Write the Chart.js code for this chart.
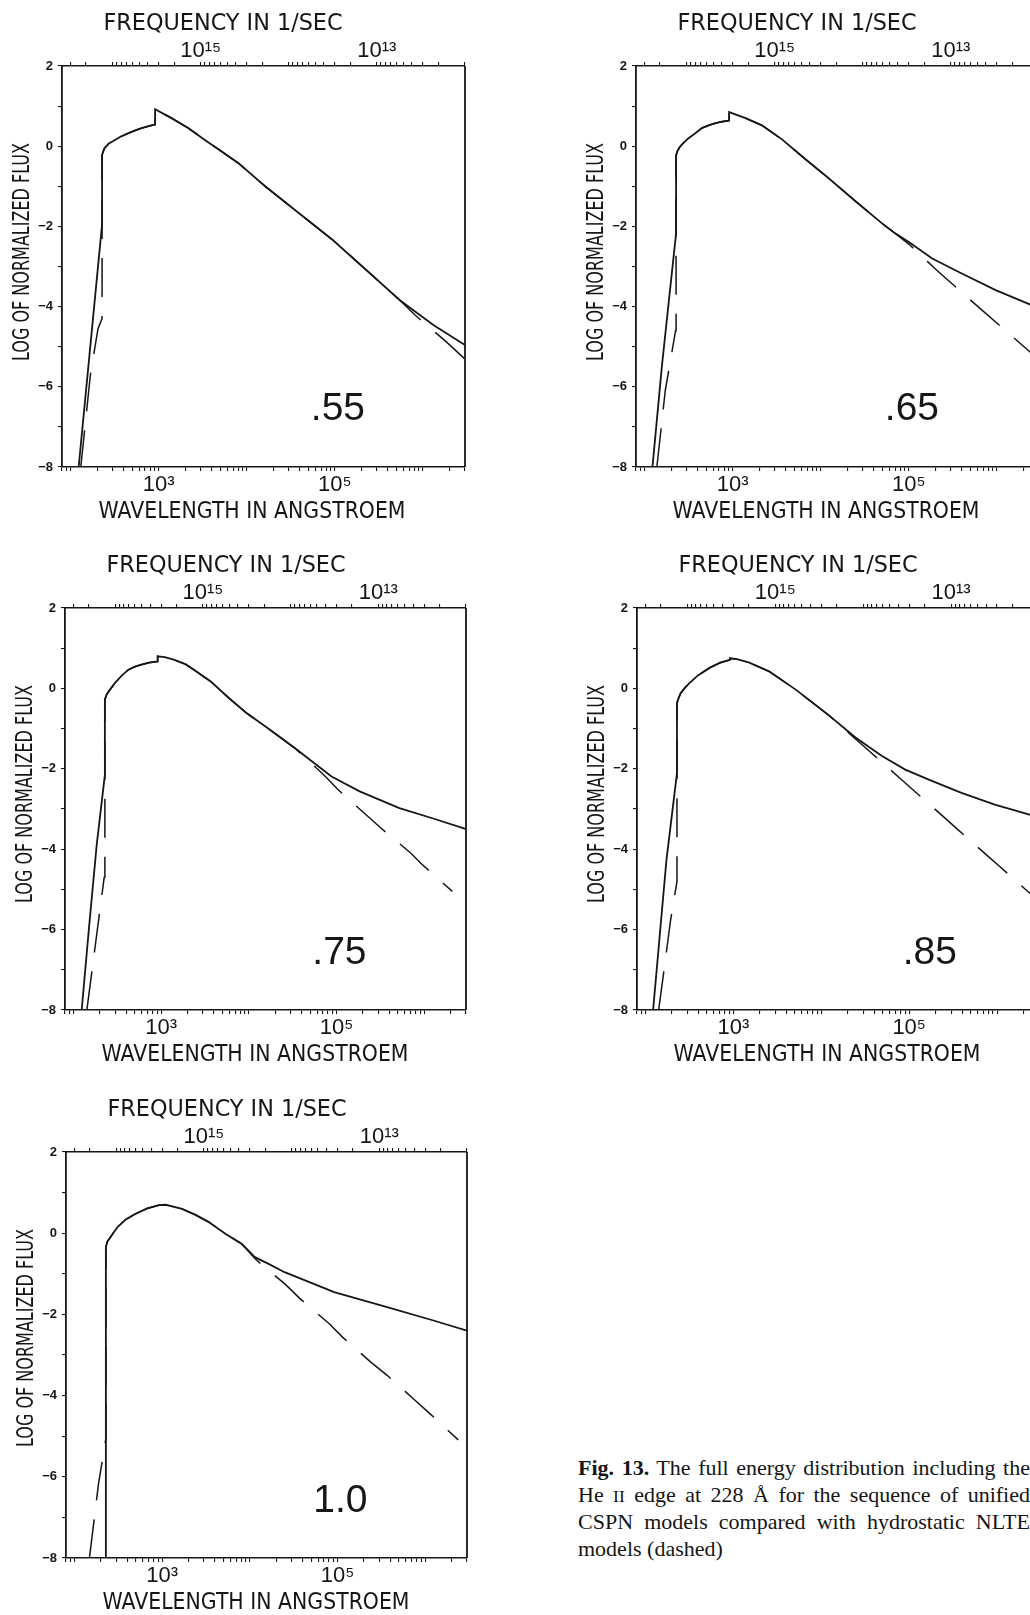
<!DOCTYPE html>
<html>
<head>
<meta charset="utf-8">
<title>Fig. 13 - full energy distribution, unified CSPN models</title>
<script src="https://cdn.jsdelivr.net/npm/chart.js@4.4.1/dist/chart.umd.min.js"></script>
<style>
  html, body { margin: 0; padding: 0; background: #fff; }
  #page { position: relative; width: 1030px; height: 1615px; overflow: hidden; background: #fff; }
  #page canvas { position: absolute; }
  #caption {
    position: absolute; left: 578px; top: 1455px; width: 452px;
    font-family: "Liberation Serif", "Times New Roman", serif;
    font-size: 22px; line-height: 26.5px; color: #151515;
  }
  #caption .j { text-align: justify; text-align-last: justify; }
  #caption .sc { font-size: 80%; }
</style>
</head>
<body>
<div id="page">
  <div id="caption">
    <div class="j"><b>Fig.&nbsp;13.</b> The full energy distribution including the</div>
    <div class="j">He <span class="sc">II</span> edge at 228 Å for the sequence of unified</div>
    <div class="j">CSPN models compared with hydrostatic NLTE</div>
    <div>models (dashed)</div>
  </div>
</div>
<script>
// wavelength in Angstroem, log of normalized flux
// solid = unified CSPN model, dashed = hydrostatic NLTE model
const solid55 = [[123,-8.05],[228,-1.95],[228,-0.22],[234,-0.14],[243,-0.05],[270,0.06],[316,0.15],[372,0.24],[449,0.32],
  [537,0.39],[637,0.45],[741,0.49],[867,0.53],[912,0.54],[912,0.92],[1400,0.70],[2180,0.45],[3380,0.15],[5250,-0.14],
  [8110,-0.43],[16400,-1.01],[94600,-2.34],[228000,-3.09],[547000,-3.84],[1312000,-4.46],[3000000,-4.96]];
const dashed55 = [[130,-8.05],[168,-5.7],[205,-4.55],[228,-4.3],[228,-0.22],[234,-0.14],[243,-0.05],[270,0.06],[316,0.15],
  [372,0.24],[449,0.32],[537,0.39],[637,0.45],[741,0.49],[867,0.53],[912,0.54],[912,0.92],[1400,0.70],[2180,0.45],
  [3380,0.15],[5250,-0.14],[8110,-0.43],[16400,-1.01],[94600,-2.34],[228000,-3.09],[547000,-3.84],[813000,-4.21],
  [1778000,-4.85],[3000000,-5.31]];

const solid65 = [[123,-8],[157,-5.51],[184,-4.09],[228,-2.18],[228,-0.23],[236,-0.12],[251,-0.02],[282,0.10],[316,0.20],
  [380,0.33],[447,0.45],[550,0.53],[631,0.57],[750,0.61],[912,0.64],[912,0.85],[1400,0.70],[2150,0.52],[3630,0.17],
  [6500,-0.30],[12300,-0.80],[25000,-1.38],[50000,-1.93],[70500,-2.18],[100000,-2.39],[184000,-2.80],[404000,-3.18],
  [966000,-3.59],[2512000,-3.97],[3000000,-4.04]];
const dashed65 = [[138,-8],[172,-6.09],[225,-4.6],[228,-4.6],[228,-0.23],[236,-0.12],[251,-0.02],[282,0.10],[316,0.20],
  [380,0.33],[447,0.45],[550,0.53],[631,0.57],[750,0.61],[912,0.64],[912,0.85],[1400,0.70],[2150,0.52],[3630,0.17],
  [6500,-0.30],[12300,-0.80],[25000,-1.38],[50000,-1.93],[70500,-2.18],[100000,-2.44],[209000,-3.10],[646000,-4.05],
  [2030000,-5.0],[3000000,-5.33]];

const solid75 = [[124,-8],[150,-5.97],[184,-3.89],[228,-2.15],[228,-0.28],[237,-0.17],[251,-0.08],[296,0.13],[355,0.32],
  [420,0.46],[501,0.54],[594,0.59],[724,0.64],[912,0.67],[912,0.80],[1100,0.78],[1416,0.71],[1900,0.60],[2382,0.46],
  [3681,0.17],[6000,-0.25],[9500,-0.62],[16200,-0.98],[33700,-1.49],[55000,-1.85],[87700,-2.19],[183700,-2.56],
  [521000,-2.98],[1242000,-3.23],[2838000,-3.48],[3000000,-3.50]];
const dashed75 = [[142,-8],[224,-4.7],[228,-4.7],[228,-0.28],[237,-0.17],[251,-0.08],[296,0.13],[355,0.32],[420,0.46],
  [501,0.54],[594,0.59],[724,0.64],[912,0.67],[912,0.80],[1100,0.78],[1416,0.71],[1900,0.60],[2382,0.46],[3681,0.17],
  [6000,-0.25],[9500,-0.62],[16200,-0.98],[33700,-1.49],[73800,-2.18],[104500,-2.52],[218800,-3.15],[323000,-3.48],
  [706000,-4.10],[916000,-4.35],[2094000,-5.05]];

const solid85 = [[122,-8],[173,-4.27],[228,-2.11],[228,-0.36],[238,-0.24],[251,-0.12],[282,0.02],[316,0.13],[398,0.33],
  [535,0.51],[708,0.64],[912,0.71],[912,0.75],[1100,0.73],[1517,0.64],[2560,0.42],[5120,-0.03],[12200,-0.67],
  [24500,-1.22],[49000,-1.68],[90200,-2.02],[181000,-2.30],[394000,-2.60],[942000,-2.89],[2449000,-3.15],[3000000,-3.20]];
const dashed85 = [[141,-8],[158,-7.2],[193,-5.76],[228,-4.8],[228,-0.36],[238,-0.24],[251,-0.12],[282,0.02],[316,0.13],
  [398,0.33],[535,0.51],[708,0.64],[912,0.71],[912,0.75],[1100,0.73],[1517,0.64],[2560,0.42],[5120,-0.03],[12200,-0.67],
  [24500,-1.26],[37800,-1.62],[79000,-2.24],[117000,-2.57],[245000,-3.19],[361000,-3.52],[757000,-4.14],[1072000,-4.43],
  [2344000,-5.09],[3000000,-5.30]];

const solid10 = [[228,-8],[228,-0.34],[238,-0.20],[251,-0.13],[282,0.03],[310,0.15],[380,0.33],[499,0.48],[676,0.61],
  [916,0.69],[1100,0.70],[1683,0.60],[2400,0.45],[3373,0.28],[5300,-0.02],[8054,-0.26],[11400,-0.59],[16140,-0.75],
  [24900,-0.96],[91600,-1.45],[368000,-1.82],[1242000,-2.15],[3000000,-2.40]];
const dashed10 = [[148,-8],[188,-6.17],[228,-5.06],[228,-0.34],[238,-0.20],[251,-0.13],[282,0.03],[310,0.15],[380,0.33],
  [499,0.48],[676,0.61],[916,0.69],[1100,0.70],[1683,0.60],[2400,0.45],[3373,0.28],[5300,-0.02],[8054,-0.26],
  [11890,-0.66],[26000,-1.28],[36800,-1.60],[80500,-2.23],[114000,-2.56],[238000,-3.17],[368000,-3.50],[771000,-4.12],
  [1140000,-4.45],[2382000,-5.09]];

// model masses written in each panel, and where (wavelength, flux) the text ends
const massLabels = ['.55', '.65', '.75', '.85', '1.0'];
const massLabelAt = [[2.2e5, -6.83], [2.2e5, -6.83], [2.2e5, -6.85], [3.5e5, -6.85], [2.2e5, -6.86]];

// axis ranges and labelled ticks
const C_ANG = 2.998e18;          // speed of light, Angstroem per second
const lamMin = 80, lamMax = 3.0e6;
const fluxMin = -8, fluxMax = 2;
const lamLabelValues = [1e3, 1e5];
const lamLabelText = ['10³', '10⁵'];
const freqLabelValues = [1e15, 1e13];
const freqLabelText = ['10¹⁵', '10¹³'];

// plot boxes on the page (left, top, width, height of the framed area)
const plotBoxes = [
  { left: 62,  top: 66,   width: 403, height: 401 },
  { left: 636, top: 66,   width: 403, height: 401 },
  { left: 65,  top: 608,  width: 401, height: 402 },
  { left: 637, top: 608,  width: 402, height: 402 },
  { left: 66,  top: 1152, width: 401, height: 406 }
];
const panelData = [
  [solid55, dashed55], [solid65, dashed65], [solid75, dashed75], [solid85, dashed85], [solid10, dashed10]
];

const INK = '#161616';
const M = { left: 70, top: 72, right: 10, bottom: 68 };

// 1..9 x 10^n tick marks inside a range
function decadeTicks(lo, hi) {
  const out = [];
  for (let e = Math.floor(Math.log10(lo)); e <= Math.ceil(Math.log10(hi)); e++) {
    for (let k = 1; k <= 9; k++) {
      const v = k * Math.pow(10, e);
      if (v >= lo * 0.9999 && v <= hi * 1.0001) out.push(v);
    }
  }
  return out;
}
const lamTicks = decadeTicks(lamMin, lamMax);
const freqTicks = decadeTicks(C_ANG / lamMax, C_ANG / lamMin).map(nu => C_ANG / nu);

function labelFor(v, values, text) {
  const i = values.findIndex(t => Math.abs(v / t - 1) < 1e-4);
  return i < 0 ? '' : text[i];
}

// squeeze a title to the width of the plotter lettering
function drawSqueezed(ctx, str, x, y, width, angle) {
  ctx.save();
  ctx.translate(x, y);
  ctx.rotate(angle);
  const w = ctx.measureText(str).width;
  ctx.scale(width / w, 1);
  ctx.textAlign = 'center';
  ctx.textBaseline = 'middle';
  ctx.fillText(str, 0, 0);
  ctx.restore();
}

const frameAndText = {
  id: 'frameAndText',
  afterDraw(chart, args, opts) {
    const { ctx, chartArea: a, scales } = chart;
    ctx.save();
    ctx.strokeStyle = INK;
    ctx.lineWidth = 1.8;
    ctx.beginPath();
    ctx.moveTo(a.right, a.top);
    ctx.lineTo(a.right, a.bottom);
    ctx.stroke();

    ctx.fillStyle = INK;
    ctx.font = '23px "DejaVu Sans"';
    drawSqueezed(ctx, 'FREQUENCY IN 1/SEC', a.left + 161, a.top - 42, 239, 0);
    drawSqueezed(ctx, 'WAVELENGTH IN ANGSTROEM', a.left + 190, a.bottom + 45.5, 307, 0);
    drawSqueezed(ctx, 'LOG OF NORMALIZED FLUX', a.left - 39, a.top + 186, 218, -Math.PI / 2);

    ctx.font = '39px "Liberation Sans", Arial, sans-serif';
    ctx.textAlign = 'right';
    ctx.textBaseline = 'alphabetic';
    ctx.fillText(opts.mass, scales.x.getPixelForValue(opts.at[0]), scales.y.getPixelForValue(opts.at[1]));
    ctx.restore();
  }
};

const tickFont = { family: '"Liberation Sans", "DejaVu Sans", sans-serif', size: 22, lineHeight: 1 };

function logAxis(position, tickValues, label, height, pad) {
  return {
    type: 'logarithmic',
    position: position,
    min: lamMin,
    max: lamMax,
    afterBuildTicks: s => { s.ticks = tickValues.map(v => ({ value: v })); },
    afterFit: s => { s.height = height; },
    ticks: {
      autoSkip: false, maxRotation: 0, minRotation: 0,
      color: INK, font: tickFont, padding: pad,
      callback: v => label(v)
    },
    grid: { drawOnChartArea: false, drawTicks: true, tickLength: 4, color: INK, lineWidth: 1.1 },
    border: { display: true, color: INK, width: 1.6 }
  };
}

const page = document.getElementById('page');

plotBoxes.forEach((box, i) => {
  const canvas = document.createElement('canvas');
  canvas.width = M.left + box.width + M.right;
  canvas.height = M.top + box.height + M.bottom;
  canvas.style.left = (box.left - M.left) + 'px';
  canvas.style.top = (box.top - M.top) + 'px';
  page.appendChild(canvas);

  const [solid, dashed] = panelData[i];

  new Chart(canvas.getContext('2d'), {
    type: 'line',
    data: {
      datasets: [
        { label: 'unified', data: solid, borderColor: INK, borderWidth: 1.8, pointRadius: 0, tension: 0, fill: false },
        { label: 'hydrostatic', data: dashed, borderColor: INK, borderWidth: 1.5, borderDash: [39, 19], pointRadius: 0, tension: 0, fill: false }
      ]
    },
    options: {
      responsive: false,
      animation: false,
      devicePixelRatio: 1,
      events: [],
      layout: { padding: { left: 0, top: 0, right: M.right, bottom: 0 } },
      plugins: {
        legend: { display: false },
        tooltip: { enabled: false },
        frameAndText: { mass: massLabels[i], at: massLabelAt[i] }
      },
      scales: {
        x: logAxis('bottom', lamTicks, v => labelFor(v, lamLabelValues, lamLabelText), M.bottom, 3),
        x2: logAxis('top', freqTicks, v => labelFor(C_ANG / v, freqLabelValues, freqLabelText), M.top, 0.5),
        y: {
          type: 'linear',
          min: fluxMin,
          max: fluxMax,
          afterFit: s => { s.width = M.left; },
          ticks: {
            stepSize: 1, color: INK, padding: 5,
            font: { family: '"Liberation Sans", Arial, sans-serif', size: 13, weight: 'bold' },
            callback: v => (v % 2 === 0 ? String(v).replace('-', '\u2212') : '')
          },
          grid: { drawOnChartArea: false, drawTicks: true, tickLength: 4, color: INK, lineWidth: 1.1 },
          border: { display: true, color: INK, width: 1.8 }
        }
      }
    },
    plugins: [frameAndText]
  });
});
</script>
</body>
</html>
